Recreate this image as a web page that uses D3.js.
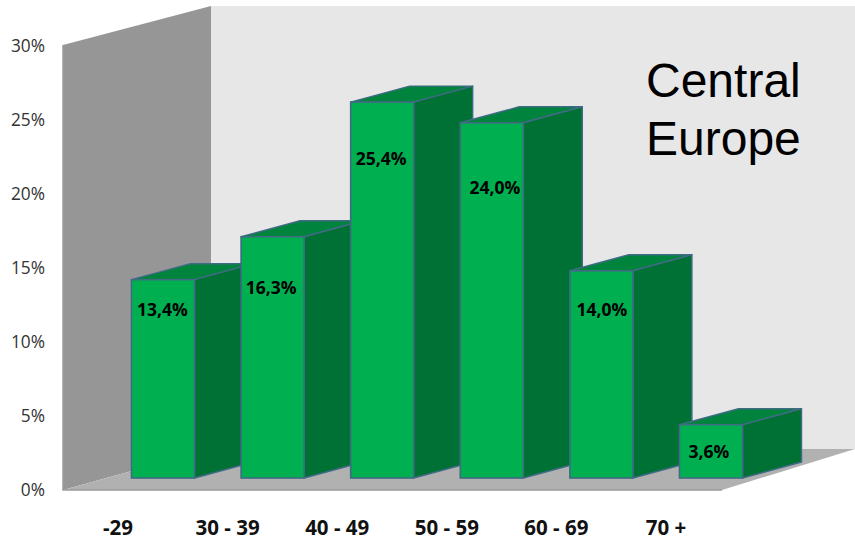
<!DOCTYPE html>
<html><head><meta charset="utf-8">
<script src="https://cdn.jsdelivr.net/npm/d3@7"></script>
<style>html,body{margin:0;padding:0;background:#fff}svg{display:block}</style></head>
<body><svg id="c" width="855" height="540"></svg>
<script>
const categories = ["-29","30 - 39","40 - 49","50 - 59","60 - 69","70 +"];
const shares = [13.4,16.3,25.4,24.0,14.0,3.6];
const valueLabels = ["13,4%","16,3%","25,4%","24,0%","14,0%","3,6%"];
const ticks = [0,5,10,15,20,25,30];
const title = ["Central","Europe"];
// hand placement of the value labels relative to each bar's top-centre
const labelDx = [-0.5,-1.5,-1,3,0.5,-2];
const labelDy = [36.5,57.5,62.5,71.5,45.5,33.5];

const svg = d3.select("#c");
const y = d3.scaleLinear().domain([0,30]).range([490,46]);
const x = d3.scaleBand().domain(categories).range([108.2,765.8]).paddingInner(0.425).paddingOuter(0.2125);
const font = "'Open Sans',sans-serif";
const depth = {dx:59, dy:-16};
const wallX0 = 63, wallX1 = 211, wallRight = 855, floorFront = 722;
const wallTopBack = 6, floorBack = 449;
const line = d3.line();

svg.append("path").attr("d",line([[wallX1,wallTopBack],[wallRight,wallTopBack],[wallRight,floorBack],[wallX1,floorBack]])+"Z").attr("fill","#e7e7e7");
svg.append("path").attr("d",line([[wallX0,y(30)-1],[wallX1,wallTopBack],[wallX1,floorBack],[wallX0,y(0)]])+"Z").attr("fill","#969696");
svg.append("path").attr("d",line([[wallX0,y(0)],[wallX1,floorBack],[wallRight,floorBack],[floorFront,y(0)]])+"Z").attr("fill","#b1b1b1");
svg.append("path").attr("d",line([[wallX0,y(30)-1],[wallX0,y(0)],[floorFront,y(0)]])).attr("fill","none").attr("stroke","#9a9a9a").attr("stroke-width",1.5);

const lift = 12; // bars stand on the middle of the floor
const stroke = "#3f6b84";
const bars = svg.append("g").selectAll("g").data(categories).join("g");
bars.each(function(c,i){
  const g = d3.select(this);
  const l = x(c), r = l + x.bandwidth(), t = y(shares[i]) - lift, b = y(0) - lift;
  const {dx,dy} = depth;
  g.append("path").attr("d",line([[l,t],[l+dx,t+dy],[r+dx,t+dy],[r,t]])+"Z").attr("fill","#00843d").attr("stroke",stroke).attr("stroke-width",1.4).attr("stroke-linejoin","round");
  g.append("path").attr("d",line([[r,t],[r+dx,t+dy],[r+dx,b+dy],[r,b]])+"Z").attr("fill","#007135").attr("stroke",stroke).attr("stroke-width",1.4).attr("stroke-linejoin","round");
  g.append("rect").attr("x",l).attr("y",t).attr("width",r-l).attr("height",b-t).attr("fill","#00b050").attr("stroke",stroke).attr("stroke-width",1.6);
  g.append("text").attr("x",(l+r)/2+labelDx[i]).attr("y",t+labelDy[i]).attr("text-anchor","middle")
    .attr("font-family",font).attr("font-weight",700).attr("font-size",17.5).attr("fill","#000").text(valueLabels[i]);
});

const yAxis = svg.append("g").attr("transform","translate(52,0)")
  .call(d3.axisLeft(y).tickValues(ticks).tickFormat(d=>d+"%").tickSize(0).tickPadding(7));
yAxis.select(".domain").remove();
yAxis.selectAll("text").attr("font-family",font).attr("font-size",17.3).attr("fill","#333");

svg.append("g").selectAll("text").data(categories).join("text")
  .attr("x",c=>x(c)+x.bandwidth()/2-45).attr("y",535).attr("text-anchor","middle")
  .attr("font-family",font).attr("font-weight",700).attr("font-size",20.5).attr("fill","#111").text(c=>c);

svg.append("g").selectAll("text").data(title).join("text")
  .attr("x",646).attr("y",(d,i)=>97+i*58)
  .attr("font-family","'Liberation Sans',Arial,sans-serif").attr("font-size",48).attr("fill","#000").text(d=>d);
</script></body></html>
